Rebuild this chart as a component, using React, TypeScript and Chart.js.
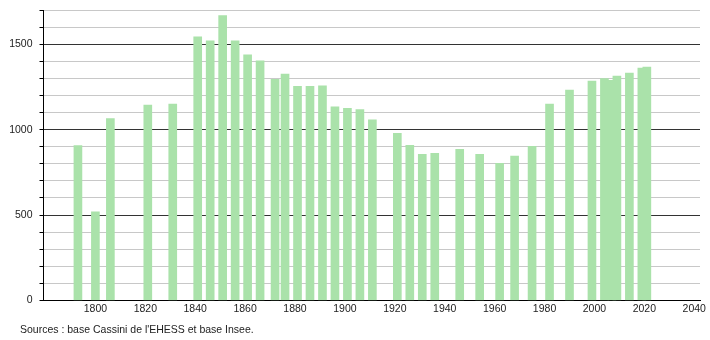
import React, { useEffect, useRef } from 'react';
import { Chart, registerables } from 'chart.js';

Chart.register(...registerables);

const years = [
  1793, 1800, 1806, 1821, 1831, 1841, 1846, 1851, 1856, 1861, 1866, 1872, 1876,
  1881, 1886, 1891, 1896, 1901, 1906, 1911, 1921, 1926, 1931, 1936, 1946, 1954,
  1962, 1968, 1975, 1982, 1990, 1999, 2004, 2007, 2009, 2014, 2019, 2021,
];
const population = [
  907, 519, 1065, 1143, 1149, 1543, 1519, 1668, 1519, 1437, 1402, 1294, 1325,
  1253, 1253, 1256, 1133, 1124, 1117, 1057, 978, 908, 855, 861, 884, 855,
  802, 845, 902, 1149, 1231, 1284, 1298, 1288, 1313, 1331, 1360, 1366,
];
const xTickYears = [1800, 1820, 1840, 1860, 1880, 1900, 1920, 1940, 1960, 1980, 2000, 2020, 2040];
const yGridValues = [0, 100, 200, 300, 400, 500, 600, 700, 800, 900, 1000, 1100, 1200, 1300, 1400, 1500, 1600, 1700];
const yLabelValues = [0, 500, 1000, 1500];
const sourceText = "Sources : base Cassini de l'EHESS et base Insee.";

const FONT_FAMILY = "'Liberation Sans', Arial, sans-serif";

export default function App() {
  const ref = useRef<HTMLCanvasElement>(null);

  useEffect(() => {
    const canvas = ref.current;
    if (!canvas) return;
    const chart = new Chart(canvas, {
      type: 'bar',
      data: {
        datasets: [
          {
            data: years.map((y, i) => ({ x: y, y: population[i] })),
            backgroundColor: '#aae2aa',
            borderWidth: 0,
            barThickness: 8,
          },
        ],
      },
      options: {
        responsive: false,
        animation: false,
        devicePixelRatio: 1,
        layout: { padding: { top: 10, right: 10, left: 0, bottom: 0 } },
        plugins: { legend: { display: false }, tooltip: { enabled: false } },
        scales: {
          x: {
            type: 'linear',
            offset: false,
            min: 1779.2,
            max: 2042.3,
            grid: { display: false, drawTicks: false, tickLength: 0 },
            border: { color: '#000', width: 1 },
            afterBuildTicks: (s: any) => {
              s.ticks = xTickYears.map((v) => ({ value: v }));
            },
            afterFit: (s: any) => {
              s.height = 39.5;
              s.paddingLeft = 0;
              s.paddingRight = 0;
            },
            ticks: {
              autoSkip: false,
              maxRotation: 0,
              padding: 2,
              color: '#222',
              font: { family: FONT_FAMILY, size: 10.5 },
              callback: (v: any) => String(v),
            },
          },
          y: {
            type: 'linear',
            min: 0,
            max: 1700,
            border: { color: '#000', width: 1 },
            grid: {
              color: (ctx: any) => (ctx.tick && ctx.tick.value % 500 === 0 ? '#333333' : '#c8c8c8'),
              tickColor: '#000',
              tickLength: 4,
              lineWidth: 1,
            },
            afterBuildTicks: (s: any) => {
              s.ticks = yGridValues.map((v) => ({ value: v }));
            },
            afterFit: (s: any) => {
              s.width = 43.5;
              s.paddingTop = 0;
              s.paddingBottom = 0;
            },
            ticks: {
              autoSkip: false,
              padding: 7,
              color: '#222',
              font: { family: FONT_FAMILY, size: 10.5 },
              callback: (v: any) => (yLabelValues.includes(Number(v)) ? String(v) : ''),
            },
          },
        },
      },
    });
    return () => chart.destroy();
  }, []);

  return (
    <div style={{ position: 'absolute', left: 0, top: 0, width: 710, height: 340, background: '#fff' }}>
      <canvas ref={ref} width={710} height={340} style={{ display: 'block', width: 710, height: 340 }} />
      <div
        style={{
          position: 'absolute',
          left: 20,
          top: 322,
          fontFamily: FONT_FAMILY,
          fontSize: 10.5,
          color: '#222',
          whiteSpace: 'nowrap',
          lineHeight: '14px',
        }}
      >
        {sourceText}
      </div>
    </div>
  );
}
